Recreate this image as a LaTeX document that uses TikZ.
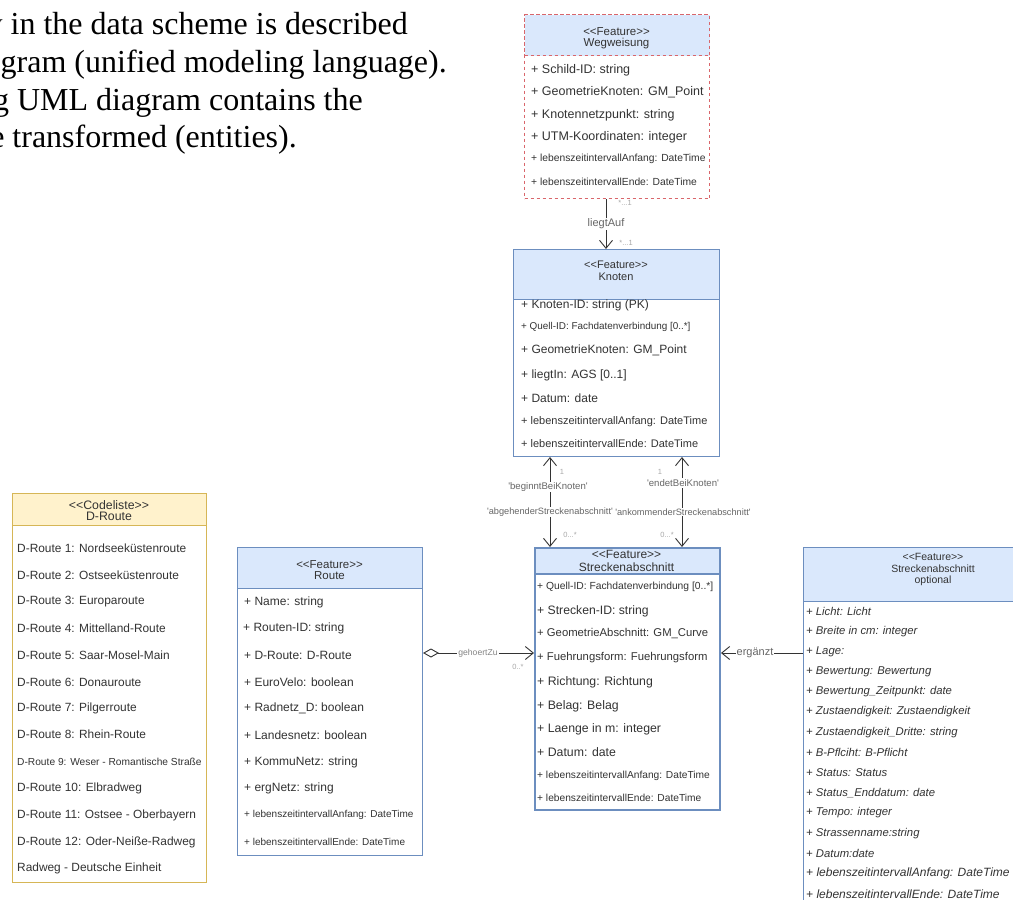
\documentclass[tikz,border=0pt]{standalone}
\usepackage{fontspec}
\setmainfont{Liberation Serif}
\setsansfont{Liberation Sans}
\usetikzlibrary{arrows.meta}
\definecolor{hdrblue}{HTML}{DAE8FC}
\definecolor{bdrblue}{HTML}{6C8EBF}
\definecolor{hdryel}{HTML}{FFF2CC}
\definecolor{bdryel}{HTML}{D6B656}
\definecolor{dashred}{HTML}{D9666B}
\definecolor{txtc}{HTML}{333333}
\definecolor{lblc}{HTML}{666666}
\definecolor{multc}{HTML}{A8A8A8}
\newcommand{\fsz}[1]{\fontsize{#1}{#1}\selectfont}
\newcommand{\sq}{\textquotesingle}
\begin{document}
\begin{tikzpicture}[x=1pt,y=-1pt,
  bodybox/.style={draw=bdrblue, line width=1pt, fill=white, anchor=north west, inner sep=0pt},
  hdrbox/.style={draw=bdrblue, line width=1pt, fill=hdrblue, anchor=north west, inner sep=0pt},
  hdrtxt/.style={text=txtc, inner sep=0pt, font=\sffamily\fsz{#1}},
  rowtxt/.style={text=txtc, inner sep=0pt, anchor=west, font=\sffamily\fsz{#1}},
  irowtxt/.style={text=txtc, inner sep=0pt, anchor=west, font=\sffamily\itshape\fsz{#1}},
  lbltxt/.style={text=lblc, fill=white, inner sep=1pt, font=\sffamily\fsz{#1}},
  multtxt/.style={text=multc, inner sep=0pt, font=\sffamily\fsz{7.5}},
  introtxt/.style={text=black, inner sep=0pt, anchor=base east, font=\rmfamily\fsz{32}},
  conn/.style={draw=txtc, line width=0.9pt},
  openarr/.tip={Straight Barb[length=8pt,width=13pt]}
]
\useasboundingbox (0,0) rectangle (1013,900);
\fill[white] (0,0) rectangle (1013,900);

% ---------- intro text ----------
\node[introtxt] (i1) at (408,34) {y in the data scheme is described};
\node[introtxt] (i2) at (447,72) {gram (unified modeling language).};
\node[introtxt] (i3) at (363,110) {g UML diagram contains the};
\node[introtxt] (i4) at (297,147) {e transformed (entities).};

% ---------- Wegweisung ----------
\node[bodybox, draw=dashred, dashed, minimum width=185pt, minimum height=184pt] (weg) at (524,14) {};
\node[hdrbox, draw=dashred, dashed, minimum width=185pt, minimum height=41pt] (wegh) at (524,14) {};
\node[hdrtxt=11.5] (wegt1) at (616.5,32) {{<}{<}Feature{>}{>}};
\node[hdrtxt=11.5] (wegt2) at (616.5,44) {Wegweisung};
\node[rowtxt=12.5] (w1) at (531,70) {+ Schild-ID: string};
\node[rowtxt=12.5] (w2) at (531,92) {+ GeometrieKnoten: GM\_Point};
\node[rowtxt=12.5] (w3) at (531,115) {+ Knotennetzpunkt: string};
\node[rowtxt=12.5] (w4) at (531,137) {+ UTM-Koordinaten: integer};
\node[rowtxt=10.3] (w5) at (531,159) {+ lebenszeitintervallAnfang: DateTime};
\node[rowtxt=10.3] (w6) at (531,182) {+ lebenszeitintervallEnde: DateTime};

% ---------- Knoten ----------
\node[bodybox, minimum width=206pt, minimum height=207pt] (kn) at (513,249) {};
\node[hdrbox, minimum width=206pt, minimum height=50pt] (knh) at (513,249) {};
\node[hdrtxt=11] (knt1) at (616,265) {{<}{<}Feature{>}{>}};
\node[hdrtxt=11] (knt2) at (616,277) {Knoten};
\node[rowtxt=12] (k1) at (521,305) {+ Knoten-ID: string (PK)};
\node[rowtxt=9.9] (k2) at (521,327) {+ Quell-ID: Fachdatenverbindung [0..*]};
\node[rowtxt=12] (k3) at (521,350) {+ GeometrieKnoten: GM\_Point};
\node[rowtxt=12] (k4) at (521,375) {+ liegtIn: AGS [0..1]};
\node[rowtxt=12] (k5) at (521,398) {+ Datum: date};
\node[rowtxt=11] (k6) at (521,422) {+ lebenszeitintervallAnfang: DateTime};
\node[rowtxt=11] (k7) at (521,444) {+ lebenszeitintervallEnde: DateTime};

% ---------- Streckenabschnitt ----------
\node[bodybox, line width=2pt, minimum width=185pt, minimum height=262pt] (st) at (534,547) {};
\node[hdrbox, line width=2pt, minimum width=185pt, minimum height=26pt] (sth) at (534,547) {};
\node[hdrtxt=12] (stt1) at (626.5,554) {{<}{<}Feature{>}{>}};
\node[hdrtxt=12] (stt2) at (626.5,567) {Streckenabschnitt};
\node[rowtxt=10.3] (s1) at (537,587) {+ Quell-ID: Fachdatenverbindung [0..*]};
\node[rowtxt=12.2] (s2) at (537,611) {+ Strecken-ID: string};
\node[rowtxt=11.3] (s3) at (537,634) {+ GeometrieAbschnitt: GM\_Curve};
\node[rowtxt=11.3] (s4) at (537,658) {+ Fuehrungsform: Fuehrungsform};
\node[rowtxt=12.3] (s5) at (537,682) {+ Richtung: Richtung};
\node[rowtxt=12.3] (s6) at (537,706) {+ Belag: Belag};
\node[rowtxt=12.3] (s7) at (537,729) {+ Laenge in m: integer};
\node[rowtxt=12.3] (s8) at (537,752) {+ Datum: date};
\node[rowtxt=10.2] (s9) at (537,776) {+ lebenszeitintervallAnfang: DateTime};
\node[rowtxt=10.2] (s10) at (537,798) {+ lebenszeitintervallEnde: DateTime};

% ---------- Route ----------
\node[bodybox, minimum width=185pt, minimum height=308pt] (rt) at (237,547) {};
\node[hdrbox, minimum width=185pt, minimum height=41pt] (rth) at (237,547) {};
\node[hdrtxt=11.5] (rtt1) at (329.5,565) {{<}{<}Feature{>}{>}};
\node[hdrtxt=11.5] (rtt2) at (329.5,576) {Route};
\node[rowtxt=12] (r1) at (244,602) {+ Name: string};
\node[rowtxt=12] (r2) at (243,628) {+ Routen-ID: string};
\node[rowtxt=12] (r3) at (244,655) {+ D-Route: D-Route};
\node[rowtxt=12] (r4) at (244,682) {+ EuroVelo: boolean};
\node[rowtxt=12] (r5) at (244,708) {+ Radnetz\_D: boolean};
\node[rowtxt=12] (r6) at (244,735) {+ Landesnetz: boolean};
\node[rowtxt=12] (r7) at (244,762) {+ KommuNetz: string};
\node[rowtxt=12] (r8) at (244,788) {+ ergNetz: string};
\node[rowtxt=10] (r9) at (244,815) {+ lebenszeitintervallAnfang: DateTime};
\node[rowtxt=10] (r10) at (244,842) {+ lebenszeitintervallEnde: DateTime};

% ---------- D-Route Codeliste ----------
\node[bodybox, draw=bdryel, minimum width=194pt, minimum height=389pt] (dr) at (12,493) {};
\node[hdrbox, draw=bdryel, fill=hdryel, minimum width=194pt, minimum height=32pt] (drh) at (12,493) {};
\node[hdrtxt=12.3] (drt1) at (109,505) {{<}{<}Codeliste{>}{>}};
\node[hdrtxt=12.3] (drt2) at (109,516) {D-Route};
\node[rowtxt=11.9] (d1) at (17,548) {D-Route 1: Nordseeküstenroute};
\node[rowtxt=11.9] (d2) at (17,575) {D-Route 2: Ostseeküstenroute};
\node[rowtxt=11.9] (d3) at (17,602) {D-Route 3: Europaroute};
\node[rowtxt=11.9] (d4) at (17,628) {D-Route 4: Mittelland-Route};
\node[rowtxt=11.9] (d5) at (17,655) {D-Route 5: Saar-Mosel-Main};
\node[rowtxt=11.9] (d6) at (17,682) {D-Route 6: Donauroute};
\node[rowtxt=11.9] (d7) at (17,708) {D-Route 7: Pilgerroute};
\node[rowtxt=11.9] (d8) at (17,734) {D-Route 8: Rhein-Route};
\node[rowtxt=10.2] (d9) at (17,762) {D-Route 9: Weser - Romantische Straße};
\node[rowtxt=11.9] (d10) at (17,788) {D-Route 10: Elbradweg};
\node[rowtxt=11.9] (d11) at (17,815) {D-Route 11: Ostsee - Oberbayern};
\node[rowtxt=11.9] (d12) at (17,842) {D-Route 12: Oder-Neiße-Radweg};
\node[rowtxt=11.9] (d13) at (17,868) {Radweg - Deutsche Einheit};

% ---------- Streckenabschnitt optional ----------
\node[bodybox, minimum width=257pt, minimum height=360pt] (op) at (803,547) {};
\node[hdrbox, minimum width=257pt, minimum height=54pt] (oph) at (803,547) {};
\node[hdrtxt=10.5] (opt1) at (933,557) {{<}{<}Feature{>}{>}};
\node[hdrtxt=10.5] (opt2) at (933,569) {Streckenabschnitt};
\node[hdrtxt=10.5] (opt3) at (933,581) {optional};
\node[irowtxt=11.3] (o1) at (806,611) {+ Licht: Licht};
\node[irowtxt=11.3] (o2) at (806,631.2) {+ Breite in cm: integer};
\node[irowtxt=11.3] (o3) at (806,651.4) {+ Lage:};
\node[irowtxt=11.3] (o4) at (806,671.6) {+ Bewertung: Bewertung};
\node[irowtxt=11.3] (o5) at (806,691.8) {+ Bewertung\_Zeitpunkt: date};
\node[irowtxt=11.3] (o6) at (806,712) {+ Zustaendigkeit: Zustaendigkeit};
\node[irowtxt=11.3] (o7) at (806,732.2) {+ Zustaendigkeit\_Dritte: string};
\node[irowtxt=11.3] (o8) at (806,752.4) {+ B-Pflciht: B-Pflicht};
\node[irowtxt=11.3] (o9) at (806,772.6) {+ Status: Status};
\node[irowtxt=11.3] (o10) at (806,792.8) {+ Status\_Enddatum: date};
\node[irowtxt=11.3] (o11) at (806,813) {+ Tempo: integer};
\node[irowtxt=11.3] (o12) at (806,833.2) {+ Strassenname:string};
\node[irowtxt=11.3] (o13) at (806,853.4) {+ Datum:date};
\node[irowtxt=12] (o14) at (806,873.6) {+ lebenszeitintervallAnfang: DateTime};
\node[irowtxt=12] (o15) at (806,893.8) {+ lebenszeitintervallEnde: DateTime};

% ---------- connectors ----------
\coordinate (cxa) at (606,0);
\coordinate (cxb) at (550,0);
\coordinate (cxc) at (682,0);
\coordinate (cya) at (0,653);

% liegtAuf
\draw[conn, -openarr] (weg.south -| cxa) -- (kn.north -| cxa)
  node[midway, lbltxt=11] (lA) {liegtAuf};
\node[multtxt] (mA1) at (625,203) {*...1};
\node[multtxt] (mA2) at (626,243) {*...1};

% beginntBeiKnoten / abgehenderStreckenabschnitt
\draw[conn, openarr-openarr] (kn.south -| cxb) -- (st.north -| cxb);
\node[lbltxt=9.6] (lB1) at (548,487) {\sq beginntBeiKnoten\sq};
\node[lbltxt=9.2] (lB2) at (550,512) {\sq abgehenderStreckenabschnitt\sq};
\node[multtxt] (mB1) at (562,472) {1};
\node[multtxt] (mB2) at (570,535) {0...*};

% endetBeiKnoten / ankommenderStreckenabschnitt
\draw[conn, openarr-openarr] (kn.south -| cxc) -- (st.north -| cxc);
\node[lbltxt=9.6] (lC1) at (683,483) {\sq endetBeiKnoten\sq};
\node[lbltxt=9.2] (lC2) at (683,512) {\sq ankommenderStreckenabschnitt\sq};
\node[multtxt] (mC1) at (660,472) {1};
\node[multtxt] (mC2) at (667,535) {0...*};

% gehoertZu
\draw[conn, {Diamond[open,length=16pt,width=9pt]}-openarr] (rt.east |- cya) -- (st.west |- cya);
\node[lbltxt=8.6, text=lblc!80] (lD) at (478,653) {gehoertZu};
\node[multtxt] (mD) at (518,667) {0..*};

% ergänzt
\draw[conn, -openarr] (op.west |- cya) -- (st.east |- cya);
\node[lbltxt=11] (lE) at (755,653) {ergänzt};
\end{tikzpicture}
\end{document}
